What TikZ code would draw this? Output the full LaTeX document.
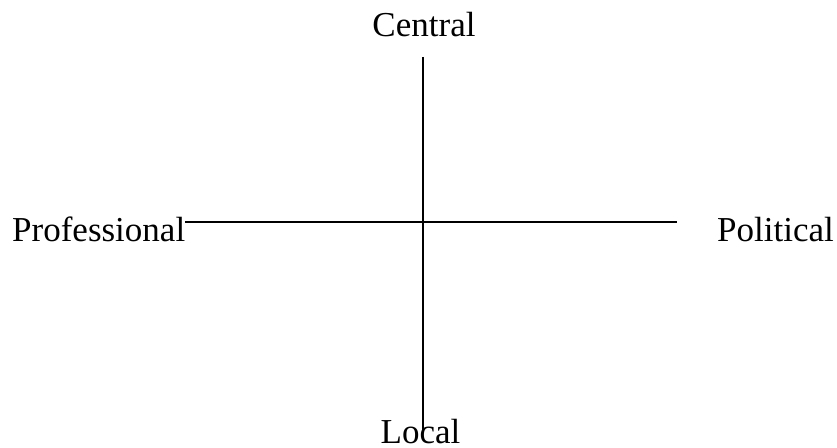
\documentclass[tikz,border=0pt]{standalone}
\usepackage{fontspec}
\setmainfont{Liberation Serif}
\begin{document}
\begin{tikzpicture}[x=1pt,y=1pt,
  lbl/.style={inner sep=0pt,font=\fontsize{35}{40}\selectfont},
  axis/.style={line width=1.8pt,black}]
\useasboundingbox (0,0) rectangle (837,447);
\node[lbl,anchor=base] (central) at (424,410) {Central};
\node[lbl,anchor=base] (local) at (420.5,4) {Local};
\node[lbl,anchor=base west] (prof) at (12,205) {Professional};
\node[lbl,anchor=base west] (pol) at (717,205) {Political};
\coordinate (top) at (423,390);
\coordinate (bot) at (423,14);
\coordinate (left) at (185,225);
\coordinate (right) at (677,225);
\draw[axis] (top) -- (bot);
\draw[axis] (left) -- (right);
\end{tikzpicture}
\end{document}
